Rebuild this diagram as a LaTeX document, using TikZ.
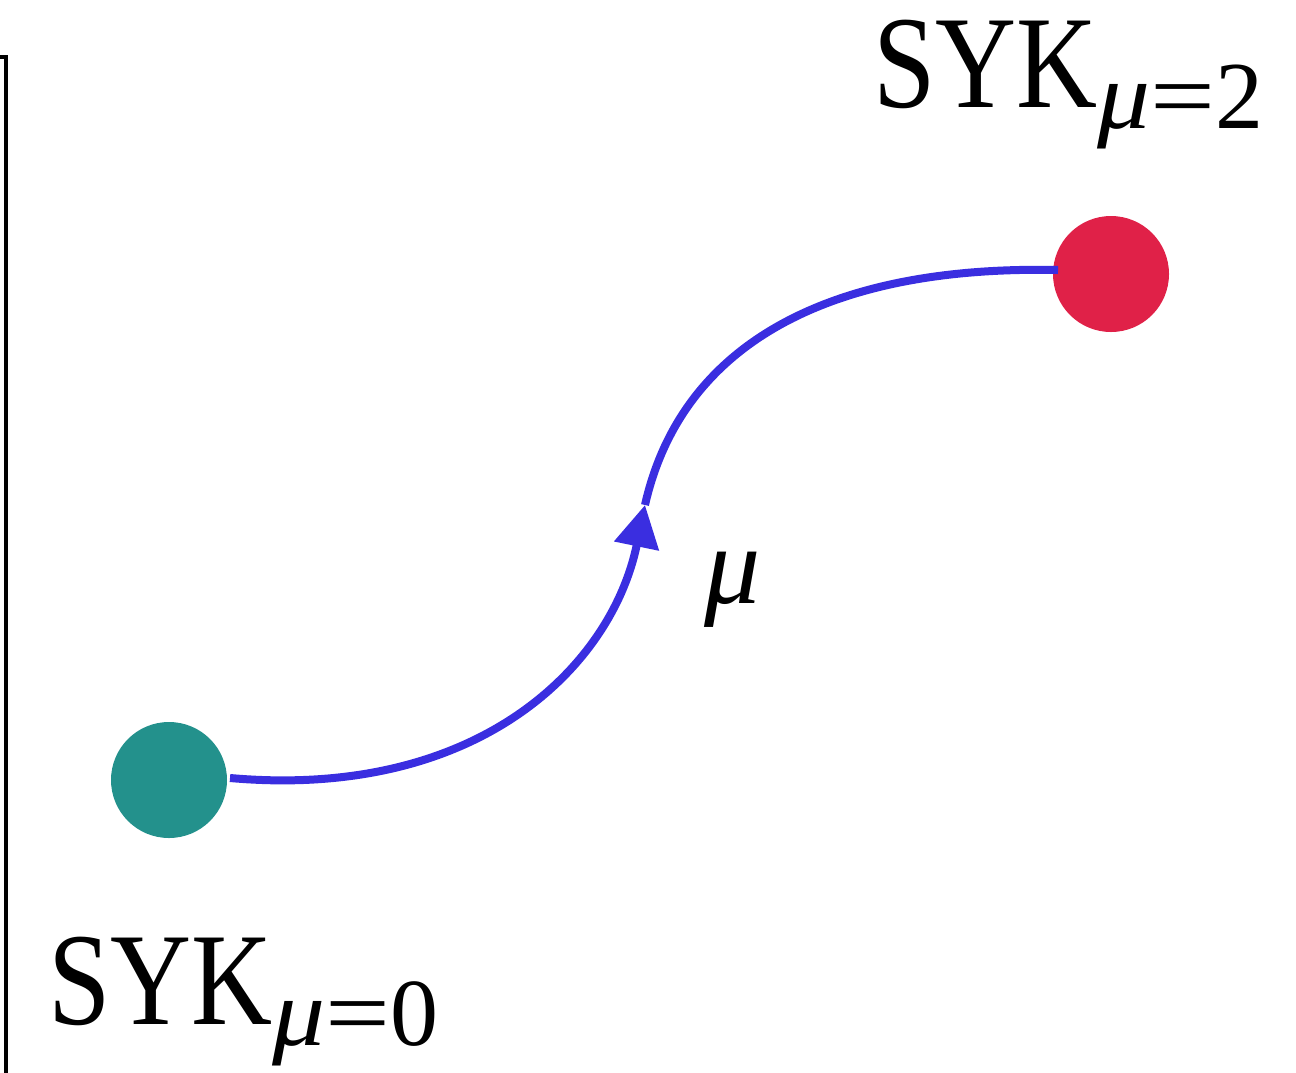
\documentclass[tikz,border=0pt]{standalone}
\usepackage{fontspec}
\setmainfont{Liberation Serif}
\usetikzlibrary{arrows.meta}
\definecolor{tealc}{RGB}{35,145,140}
\definecolor{redc}{RGB}{224,33,72}
\definecolor{bluec}{RGB}{58,46,224}
\tikzset{
  dot/.style={circle, inner sep=0pt, minimum size=58pt},
  conn/.style={draw=bluec, line width=4pt},
  lbl/.style={anchor=base west, inner sep=0pt, font=\fontsize{66}{66}\selectfont},
}
\newcommand{\sub}[1]{\raisebox{-10.5pt}{\fontsize{48}{48}\selectfont\scalebox{1.1}[1]{\itshape μ}\scalebox{1.2}[1]{=}#1}}
\begin{document}
\begin{tikzpicture}[x=0.5pt,y=-0.5pt]
\useasboundingbox (0,0) rectangle (1296,1072);
\draw[line width=2pt] (0,56.5) -- (5.5,56.5) -- (5.5,1080);
\node[dot, fill=tealc] (a) at (169,780) {};
\node[dot, fill=redc] (b) at (1111,274) {};
\coordinate (s) at (230,778);
\coordinate (m) at (645,505);
\coordinate (e) at (1058,270);
\draw[conn, -{Triangle[length=21pt,width=22pt]}] (s) .. controls (480,800) and (612,665) .. (m);
\draw[conn] (m) .. controls (680,350) and (820,265) .. (e);
\node[lbl] (t2) at (873,107) {\scalebox{0.85}[1]{SYK}\sub{2}};
\node[lbl] (t0) at (48,1024) {\scalebox{0.85}[1]{SYK}\sub{0}};
\node[inner sep=0pt, font=\fontsize{56}{56}\selectfont\itshape] (mu) at (733,590) {μ};
\end{tikzpicture}
\end{document}
